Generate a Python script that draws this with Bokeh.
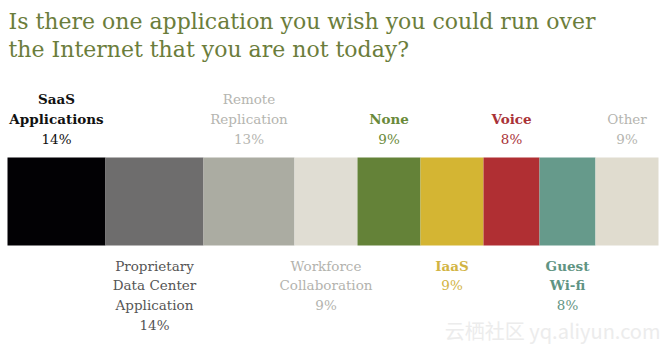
from bokeh.plotting import figure
from bokeh.models import Range1d
from bokeh.core.properties import value
from bokeh.embed import file_html
from bokeh.resources import INLINE

# ---- data ----
categories = ["SaaS\nApplications", "Proprietary\nData Center\nApplication", "Remote\nReplication",
              "Workforce\nCollaboration", "None", "IaaS", "Voice", "Guest\nWi-fi", "Other"]
values = [14, 14, 13, 9, 9, 9, 8, 8, 9]
label_side = ["top", "bottom", "top", "bottom", "top", "bottom", "top", "bottom", "top"]
bar_colors = ["#020104", "#6e6d6d", "#abaca2", "#e0ddd3", "#648238", "#d4b533", "#b02f33", "#669a8b", "#e0dccf"]
text_colors = ["#111111", "#555555", "#b5b5b0", "#b3b3ae", "#6a8a3a", "#d2b443", "#a93237", "#5f9483", "#b5b5b0"]
bold = [True, False, False, False, True, True, True, True, False]
title_lines = ["Is there one application you wish you could run over",
               "the Internet that you are not today?"]

W, H = 670, 352
PX_PER_UNIT = 7.0
LEFT_PX = 7.0

p = figure(width=W, height=H, output_backend="svg", toolbar_location=None,
           x_range=Range1d(-LEFT_PX / PX_PER_UNIT, (W - LEFT_PX) / PX_PER_UNIT),
           y_range=Range1d(H, 0), min_border=0)
p.axis.visible = False
p.grid.visible = False
p.outline_line_color = None
p.background_fill_color = "white"
p.border_fill_color = "white"

lefts, rights = [], []
acc = 0
for v in values:
    lefts.append(acc)
    acc += v
    rights.append(acc)

BAR_TOP, BAR_BOT = 157, 245
p.quad(left=lefts, right=rights, top=[BAR_TOP] * len(values), bottom=[BAR_BOT] * len(values),
       fill_color=bar_colors, line_color=None)

FONT = "DejaVu Serif"
LINE_H = 19.7
# labels
for i, (cat, v) in enumerate(zip(categories, values)):
    cx = (lefts[i] + rights[i]) / 2
    lines = cat.split("\n")
    weights = ["bold" if bold[i] else "normal"] * len(lines) + ["normal"]
    lines = lines + [f"{v}%"]
    n = len(lines)
    if label_side[i] == "top":
        ys = [138 - LINE_H * (n - 1 - k) for k in range(n)]
    else:
        ys = [265 + LINE_H * k for k in range(n)]
    for t, y, w in zip(lines, ys, weights):
        p.text(x=[cx], y=[y], text=[t], text_align="center", text_baseline="middle",
               text_font=value(FONT), text_font_size="13.5px", text_font_style=w,
               text_color=text_colors[i])

# title
for k, t in enumerate(title_lines):
    p.text(x=[(8 - LEFT_PX) / PX_PER_UNIT], y=[21 + 28 * k], text=[t], text_align="left",
           text_baseline="middle", text_font=value(FONT), text_font_size="22px",
           text_color="#6b7d3b")

# watermark
p.text(x=[(660 - LEFT_PX) / PX_PER_UNIT], y=[330], text=["云栖社区 yq.aliyun.com"], text_align="right",
       text_baseline="middle", text_font=value("Noto Sans CJK SC"), text_font_size="20px",
       text_color="#ececec")

open("out.html", "w").write(file_html(p, INLINE))
